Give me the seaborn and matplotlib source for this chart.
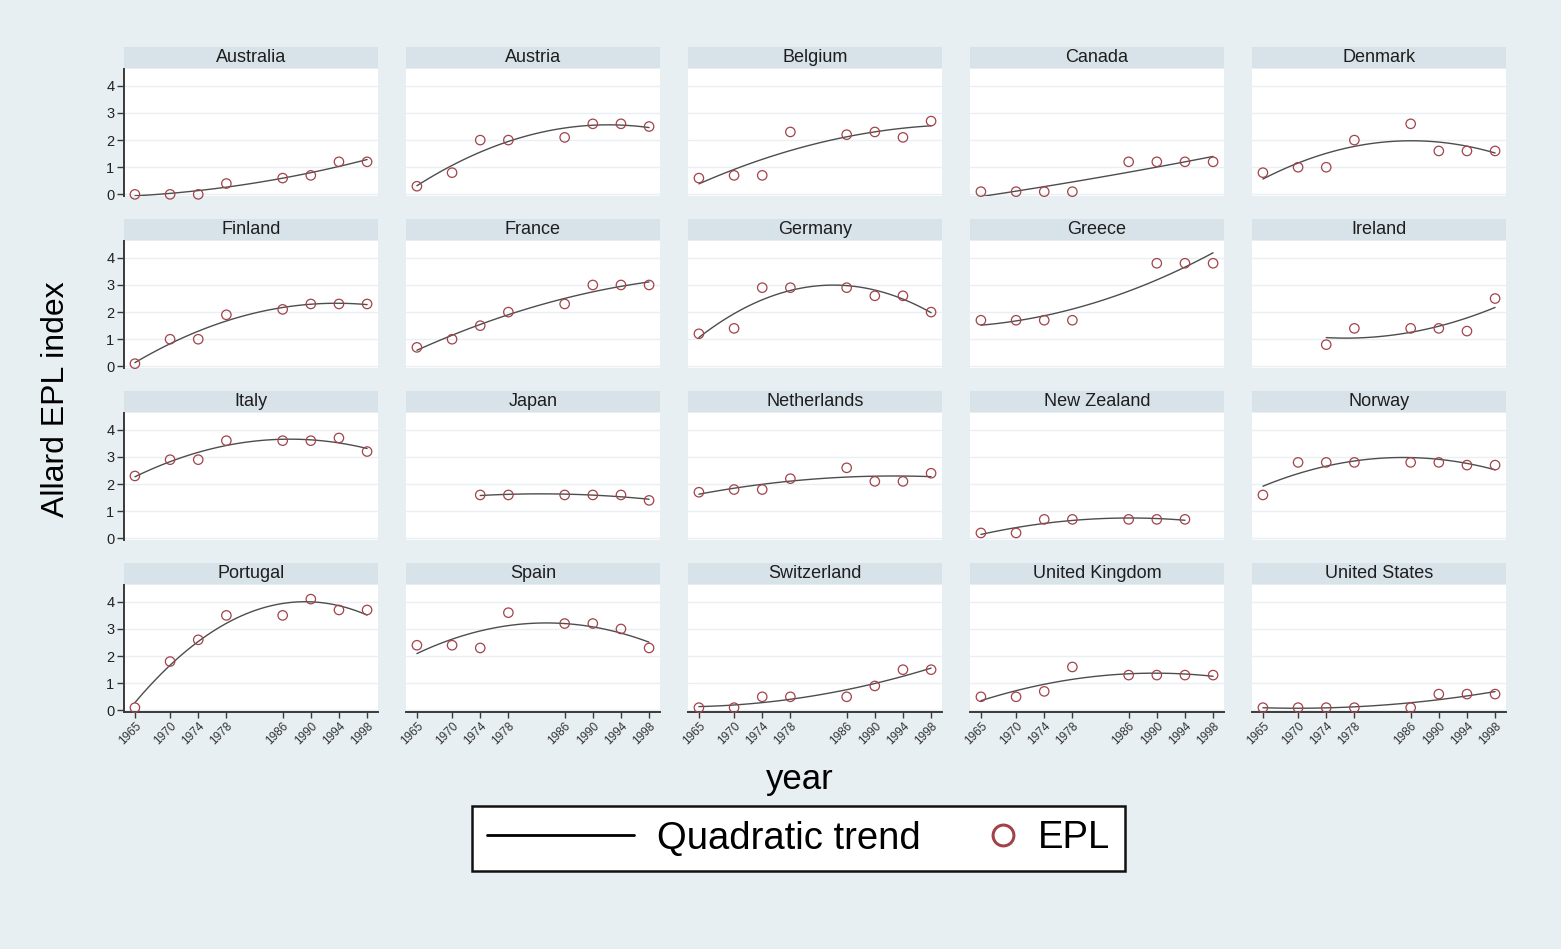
import numpy as np
import pandas as pd
import matplotlib
matplotlib.use("Agg")
import matplotlib.pyplot as plt
from matplotlib.patches import Rectangle
from matplotlib.lines import Line2D
from matplotlib.legend_handler import HandlerLine2D
import seaborn as sns

# ---- data: Allard EPL index by country and year ----
years = [1965, 1970, 1974, 1978, 1986, 1990, 1994, 1998]
year_labels = ["1965", "1970", "1974", "1978", "1986", "1990", "1994", "1998"]
y_ticks = [0, 1, 2, 3, 4]

countries = ["Australia", "Austria", "Belgium", "Canada", "Denmark",
             "Finland", "France", "Germany", "Greece", "Ireland",
             "Italy", "Japan", "Netherlands", "New Zealand", "Norway",
             "Portugal", "Spain", "Switzerland", "United Kingdom", "United States"]

nan = np.nan
australia = [0.0, 0.0, 0.0, 0.4, 0.6, 0.7, 1.2, 1.2]
austria = [0.3, 0.8, 2.0, 2.0, 2.1, 2.6, 2.6, 2.5]
belgium = [0.6, 0.7, 0.7, 2.3, 2.2, 2.3, 2.1, 2.7]
canada = [0.1, 0.1, 0.1, 0.1, 1.2, 1.2, 1.2, 1.2]
denmark = [0.8, 1.0, 1.0, 2.0, 2.6, 1.6, 1.6, 1.6]
finland = [0.1, 1.0, 1.0, 1.9, 2.1, 2.3, 2.3, 2.3]
france = [0.7, 1.0, 1.5, 2.0, 2.3, 3.0, 3.0, 3.0]
germany = [1.2, 1.4, 2.9, 2.9, 2.9, 2.6, 2.6, 2.0]
greece = [1.7, 1.7, 1.7, 1.7, nan, 3.8, 3.8, 3.8]
ireland = [nan, nan, 0.8, 1.4, 1.4, 1.4, 1.3, 2.5]
italy = [2.3, 2.9, 2.9, 3.6, 3.6, 3.6, 3.7, 3.2]
japan = [nan, nan, 1.6, 1.6, 1.6, 1.6, 1.6, 1.4]
netherlands = [1.7, 1.8, 1.8, 2.2, 2.6, 2.1, 2.1, 2.4]
new_zealand = [0.2, 0.2, 0.7, 0.7, 0.7, 0.7, 0.7, nan]
norway = [1.6, 2.8, 2.8, 2.8, 2.8, 2.8, 2.7, 2.7]
portugal = [0.1, 1.8, 2.6, 3.5, 3.5, 4.1, 3.7, 3.7]
spain = [2.4, 2.4, 2.3, 3.6, 3.2, 3.2, 3.0, 2.3]
switzerland = [0.1, 0.1, 0.5, 0.5, 0.5, 0.9, 1.5, 1.5]
united_kingdom = [0.5, 0.5, 0.7, 1.6, 1.3, 1.3, 1.3, 1.3]
united_states = [0.1, 0.1, 0.1, 0.1, 0.1, 0.6, 0.6, 0.6]

series = [australia, austria, belgium, canada, denmark,
          finland, france, germany, greece, ireland,
          italy, japan, netherlands, new_zealand, norway,
          portugal, spain, switzerland, united_kingdom, united_states]

frames = [pd.DataFrame({"country": c, "year": years, "epl": v})
          for c, v in zip(countries, series)]
df = pd.concat(frames, ignore_index=True)

# ---- styling ----
sns.set_style("white")
plt.rcParams["font.family"] = ["Liberation Sans", "DejaVu Sans"]

BG = "#e8eff2"
STRIP = "#d7e2e9"
GRID = "#e9eff2"
MARKER = "#a2434a"
TREND = "#4d4d4d"
AXIS = "#3a3a3a"

W, H = 1561, 949
fig = plt.figure(figsize=(W / 100, H / 100), dpi=100)
fig.patch.set_facecolor(BG)

left0, pitch_x, panel_w = 124, 282, 254
top0, pitch_y, panel_h = 69, 172, 127
strip_h, strip_gap = 20.5, 1.2

for i, country in enumerate(countries):
    r, c = divmod(i, 5)
    left = left0 + c * pitch_x
    top = top0 + r * pitch_y
    ax = fig.add_axes([left / W, 1 - (top + panel_h) / H, panel_w / W, panel_h / H])
    ax.set_facecolor("white")
    sub = df[df["country"] == country].dropna()

    for yv in y_ticks:
        ax.axhline(yv, color=GRID, lw=1.0, zorder=0)

    sns.regplot(data=sub, x="year", y="epl", order=2, ci=None, scatter=False,
                truncate=True, ax=ax,
                line_kws=dict(color=TREND, lw=1.0, zorder=2))
    sns.scatterplot(data=sub, x="year", y="epl", ax=ax, marker="o", s=46,
                    color=MARKER, facecolor="none", edgecolor=MARKER,
                    linewidth=0.9, zorder=3, clip_on=False)

    ax.set_xlim(1963.45, 1999.55)
    ax.set_ylim(-0.06, 4.62)
    ax.set_xlabel("")
    ax.set_ylabel("")
    for s in ["top", "right", "left", "bottom"]:
        ax.spines[s].set_visible(False)

    if c == 0:
        ax.spines["left"].set_visible(True)
        ax.spines["left"].set_color(AXIS)
        ax.spines["left"].set_linewidth(1.4)
        ax.set_yticks(y_ticks)
        ax.set_yticklabels([str(t) for t in y_ticks])
        ax.tick_params(axis="y", length=5, width=1.0, color=AXIS,
                       labelsize=10.5, labelcolor="#222222", pad=2, left=True)
    else:
        ax.set_yticks([])

    if r == 3:
        ax.spines["bottom"].set_visible(True)
        ax.spines["bottom"].set_color(AXIS)
        ax.spines["bottom"].set_linewidth(1.4)
        ax.set_xticks(years)
        ax.set_xticklabels(year_labels, rotation=45, ha="right", va="top",
                           rotation_mode="anchor")
        ax.tick_params(axis="x", length=4, width=1.0, color=AXIS,
                       labelsize=8.5, labelcolor="#333333", pad=2, bottom=True)
    else:
        ax.set_xticks([])

    # facet header
    ax.add_patch(Rectangle((0, 1 + strip_gap / panel_h), 1, strip_h / panel_h,
                           transform=ax.transAxes, facecolor=STRIP,
                           edgecolor="none", clip_on=False, zorder=5))
    ax.text(0.5, 1 + (strip_gap + strip_h / 2) / panel_h, country,
            transform=ax.transAxes, ha="center", va="center",
            fontsize=13, color="#1e1e1e", zorder=6)

# shared axis titles
fig.text(56 / W, 1 - 399 / H, "Allard EPL index", rotation=90,
         ha="center", va="center", fontsize=23, color="black")
fig.text(800 / W, 1 - 779 / H, "year", ha="center", va="center",
         fontsize=25, color="black")


class RightMarkerHandler(HandlerLine2D):
    """Places a lone legend marker near the right end of its handle box."""

    def get_xdata(self, legend, xdescent, ydescent, width, height, fontsize):
        xm = -xdescent + width - 0.31 * fontsize
        xdata = np.array([xm - 1.0, xm + 1.0])
        return xdata, np.array([xm])


# legend
trend_handle = Line2D([], [], color="black", lw=2.0)
epl_handle = Line2D([], [], color=MARKER, marker="o", linestyle="none",
                    markersize=15, markerfacecolor="none",
                    markeredgecolor=MARKER, markeredgewidth=2.2)
leg = fig.legend([trend_handle, epl_handle], ["Quadratic trend", "EPL"],
                 loc="center", bbox_to_anchor=(798.5 / W, 1 - 838.5 / H), ncol=2,
                 fontsize=27.5, handlelength=3.87, handletextpad=0.6,
                 columnspacing=-1.4, borderpad=0.38, frameon=True,
                 fancybox=False, framealpha=1.0, labelcolor="black",
                 handler_map={epl_handle: RightMarkerHandler()})
leg.get_frame().set_edgecolor("#111111")
leg.get_frame().set_linewidth(1.8)
leg.get_frame().set_facecolor("white")

fig.savefig("out.png", dpi=100, facecolor=fig.get_facecolor())
